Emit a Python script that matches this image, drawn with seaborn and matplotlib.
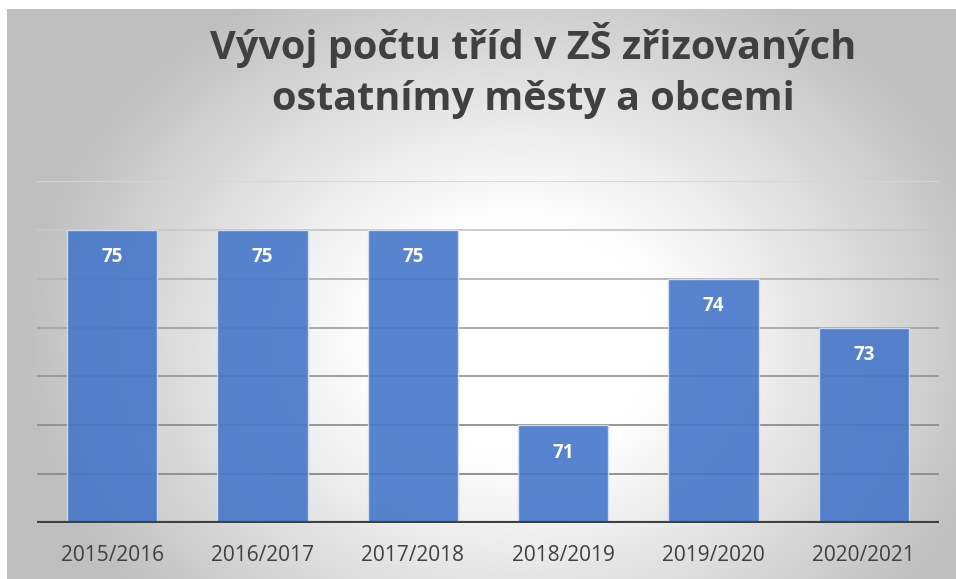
import numpy as np
import pandas as pd
import seaborn as sns
import matplotlib.pyplot as plt

# data
roky = ["2015/2016", "2016/2017", "2017/2018", "2018/2019", "2019/2020", "2020/2021"]
pocet_trid = [75, 75, 75, 71, 74, 73]
titulek = "Vývoj počtu tříd v ZŠ zřizovaných\nostatnímy městy a obcemi"

df = pd.DataFrame({"rok": roky, "tridy": pocet_trid})

sns.set_theme(style="white")
plt.rcParams['font.family'] = ['Open Sans', 'DejaVu Sans']

W, H = 956, 579
fig = plt.figure(figsize=(W / 100, H / 100), dpi=100)
fig.patch.set_facecolor("white")

# pozadi s radialnim prechodem
bg = fig.add_axes([7 / W, 0, 1 - 7 / W, 1 - 9 / H])
bg.set_zorder(-5)
yy, xx = np.mgrid[0:570, 0:949]
cx, cy = 510, 330
r = np.sqrt(((xx - cx) / 470) ** 2 + ((yy - cy) / 380) ** 2)
t = np.clip((r - 0.3) / 0.75, 0, 1)
val = 1.0 - 0.25 * t ** 1.1
img = np.dstack([val, val, val])
bg.imshow(img, aspect="auto", extent=[0, 1, 0, 1], origin="upper")
bg.axis("off")

# hlavni graf
ax = fig.add_axes([37 / W, 1 - 523 / H, 902 / W, (523 - 181) / H])
ax.patch.set_alpha(0)

sns.barplot(data=df, x="rok", y="tridy", color="#4676C9", width=0.6, saturation=1,
            alpha=0.9, edgecolor="#D6E0F2", linewidth=1.0, ax=ax, zorder=3)

ax.set_ylim(69, 76)
ax.set_xlim(-0.5, len(roky) - 0.5)

# mrizka - odstiny od tmavsi dole po svetlejsi nahore
grid_cols = ["#8a8a8a", "#8e8e8e", "#979797", "#a4a4a4", "#b4b4b4", "#c8c8c8", "#d6d6d6"]
for v, c in zip(range(70, 77), grid_cols):
    ax.axhline(v, color=c, linewidth=1.3, zorder=1)
ax.axhline(69, color="#404040", linewidth=3, zorder=4)

for i, v in enumerate(pocet_trid):
    ax.text(i, v - 0.56, str(v), ha="center", va="center", color="white",
            fontsize=13.5, fontweight="bold", zorder=5)

sns.despine(ax=ax, left=True, bottom=True, top=True, right=True)
ax.set_yticks([])
ax.set_xlabel("")
ax.set_ylabel("")
ax.tick_params(axis="x", length=0, pad=16, labelsize=15, labelcolor="#404040")

fig.text(533 / W, 1 - 70 / H, titulek, ha="center", va="center",
         fontsize=28.5, fontweight="bold", color="#404040", linespacing=1.4)

fig.savefig("out.png", dpi=100)
